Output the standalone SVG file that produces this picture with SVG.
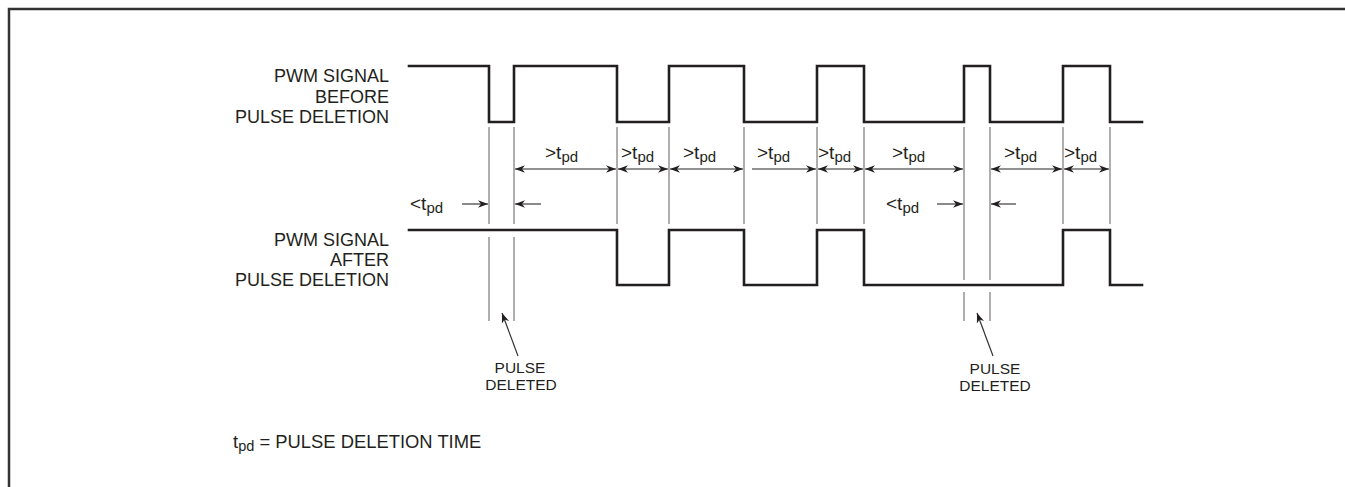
<svg xmlns="http://www.w3.org/2000/svg" width="1345" height="487" viewBox="0 0 1345 487">
<style>
  .frame{stroke:#333;stroke-width:2.5;fill:none}
  .wave{stroke:#231f20;stroke-width:2.6;fill:none;stroke-linejoin:miter;stroke-linecap:square}
  .guide{stroke:#6d6d6d;stroke-width:1.1;fill:none}
  .dim{stroke:#6d6d6d;stroke-width:1.6;fill:none}
  .ptr{stroke:#333;stroke-width:1.2;fill:none}
  text{font-family:"Liberation Sans",Arial,sans-serif;fill:#231f20}
  .lab{font-size:18px;text-anchor:end}
  .tp{font-size:19px}
  .sub{font-size:15px}
  .pd{font-size:15.5px;text-anchor:middle}
</style>
<defs>
  <marker id="ah" viewBox="-10 -5 10 10" refX="0" refY="0" markerWidth="10" markerHeight="10" markerUnits="userSpaceOnUse" orient="auto-start-reverse">
    <path d="M0,0 L-10,-3.8 L-7,0 L-10,3.8 Z" fill="#231f20"/>
  </marker>
</defs>

<g id="frame">
  <path class="frame" d="M9,487 V9 H1345"/>
</g>

<g id="label-before">
  <text class="lab" x="389" y="82">PWM SIGNAL</text>
  <text class="lab" x="389" y="102.5">BEFORE</text>
  <text class="lab" x="389" y="123">PULSE DELETION</text>
</g>
<g id="label-after">
  <text class="lab" x="389" y="246">PWM SIGNAL</text>
  <text class="lab" x="389" y="266">AFTER</text>
  <text class="lab" x="389" y="286">PULSE DELETION</text>
</g>

<g id="wave-before">
  <path class="wave" d="M409,66 H489 V122 H514 V66 H617 V122 H669 V66 H744 V122 H817 V66 H864 V122 H964 V66 H990 V122 H1063 V66 H1110 V122 H1142"/>
</g>
<g id="wave-after">
  <path class="wave" d="M409,230 H617 V285 H669 V230 H744 V285 H817 V230 H864 V285 H1063 V230 H1110 V285 H1142"/>
</g>

<g id="connectors">
  <g id="guides">
    <path class="guide" d="M489,127 V224 M514,127 V224 M489,237 V321 M514,237 V321"/>
    <path class="guide" d="M617,127 V224 M669,127 V224 M744,127 V224 M817,127 V224 M864,127 V224 M1063,127 V224 M1110,127 V224"/>
    <path class="guide" d="M964,127 V280 M990,127 V280 M964,292 V321 M990,292 V321"/>
  </g>
  <g id="dims">
    <line class="dim" x1="515" y1="169" x2="616" y2="169" marker-start="url(#ah)" marker-end="url(#ah)"/>
    <line class="dim" x1="618" y1="169" x2="668" y2="169" marker-start="url(#ah)" marker-end="url(#ah)"/>
    <line class="dim" x1="670" y1="169" x2="743" y2="169" marker-start="url(#ah)" marker-end="url(#ah)"/>
    <line class="dim" x1="752" y1="169" x2="816" y2="169" marker-end="url(#ah)"/>
    <line class="dim" x1="818" y1="169" x2="863" y2="169" marker-start="url(#ah)" marker-end="url(#ah)"/>
    <line class="dim" x1="865" y1="169" x2="963" y2="169" marker-start="url(#ah)" marker-end="url(#ah)"/>
    <line class="dim" x1="991" y1="169" x2="1062" y2="169" marker-start="url(#ah)" marker-end="url(#ah)"/>
    <line class="dim" x1="1064" y1="169" x2="1109" y2="169" marker-start="url(#ah)" marker-end="url(#ah)"/>
    <line class="dim" x1="462" y1="204" x2="488" y2="204" marker-end="url(#ah)"/>
    <line class="dim" x1="541" y1="204" x2="515" y2="204" marker-end="url(#ah)"/>
    <line class="dim" x1="937" y1="204" x2="963" y2="204" marker-end="url(#ah)"/>
    <line class="dim" x1="1016" y1="204" x2="991" y2="204" marker-end="url(#ah)"/>
  </g>
  <g id="pointers">
    <line class="ptr" x1="518" y1="356" x2="502" y2="313" marker-end="url(#ah)"/>
    <line class="ptr" x1="993" y1="356" x2="977" y2="313" marker-end="url(#ah)"/>
  </g>
</g>

<g id="dim-labels">
  <text class="tp" x="545" y="159">&gt;t<tspan class="sub" dy="3">pd</tspan></text>
  <text class="tp" x="621" y="159">&gt;t<tspan class="sub" dy="3">pd</tspan></text>
  <text class="tp" x="683" y="159">&gt;t<tspan class="sub" dy="3">pd</tspan></text>
  <text class="tp" x="757" y="159">&gt;t<tspan class="sub" dy="3">pd</tspan></text>
  <text class="tp" x="818" y="159">&gt;t<tspan class="sub" dy="3">pd</tspan></text>
  <text class="tp" x="892" y="159">&gt;t<tspan class="sub" dy="3">pd</tspan></text>
  <text class="tp" x="1004" y="159">&gt;t<tspan class="sub" dy="3">pd</tspan></text>
  <text class="tp" x="1064" y="159">&gt;t<tspan class="sub" dy="3">pd</tspan></text>
  <text class="tp" x="410" y="210">&lt;t<tspan class="sub" dy="3">pd</tspan></text>
  <text class="tp" x="886" y="210">&lt;t<tspan class="sub" dy="3">pd</tspan></text>
</g>

<g id="deleted-1">
  <text class="pd" x="520" y="373">PULSE</text>
  <text class="pd" x="521" y="390">DELETED</text>
</g>
<g id="deleted-2">
  <text class="pd" x="995" y="374">PULSE</text>
  <text class="pd" x="995" y="391">DELETED</text>
</g>

<g id="note">
  <text x="233" y="448" font-size="18.4">t<tspan font-size="14.5" dy="3">pd</tspan><tspan dy="-3"> = PULSE DELETION TIME</tspan></text>
</g>
</svg>
